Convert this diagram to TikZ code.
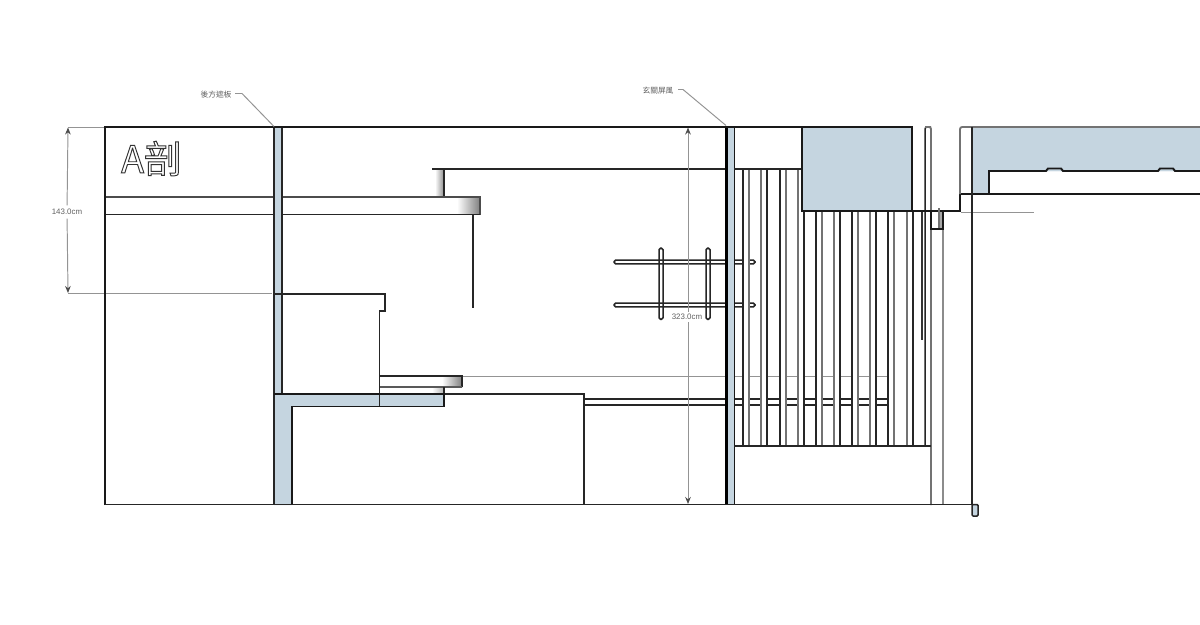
\documentclass[tikz,border=0pt]{standalone}
\usepackage{fontspec}
\setmainfont{Liberation Sans}
\newfontfamily\cjk{Noto Sans CJK TC}
\definecolor{wallblue}{HTML}{C5D5E0}
\usetikzlibrary{arrows.meta}
\tikzset{
  hv/.style={draw=black!85,line width=0.85pt,line join=miter},
  thick wall/.style={draw=black!90,line width=1.1pt},
  mid/.style={draw=black!55,line width=1.05pt},
  pale/.style={draw=black!42,line width=0.55pt},
  dimline/.style={pale,>={Stealth[length=4pt,width=3.2pt,black!70]}},
  lab/.style={font=\fontsize{4.5pt}{5pt}\selectfont,text=black!62,inner sep=0.5pt},
  cjklab/.style={font=\cjk\fontsize{4.4pt}{5pt}\selectfont,text=black!62,inner sep=0.5pt},
  cut/.style={fill=wallblue,draw=none},
}
\begin{document}
\begin{tikzpicture}[x=0.02cm,y=-0.02cm]
\useasboundingbox (0,0) rectangle (1200,625);
\fill[white] (0,0) rectangle (1200,625);

% gradient ends of the shelves
\shade[left color=white,right color=black!50] (457,197) rectangle (480,214);
\shade[left color=white,right color=black!45] (435,170) rectangle (444,197);
\shade[left color=white,right color=black!50] (442,376) rectangle (462,387);
\shade[left color=white,right color=black!30] (432,387) rectangle (444,394);

% pale lines
\draw[pale] (462,376) -- (890,376);
\draw[pale] (961,212) -- (1034,212);
\draw[pale] (68,293) -- (272,293);
\draw[pale] (68,127) -- (105,127);

% rails behind the slats
\draw[hv] (584,399) -- (890,399);
\draw[hv] (584,405) -- (890,405);
\foreach \ry in {262,305}{
  \draw[hv,rounded corners=0.9pt] (726,\ry-1.8) -- (614,\ry-1.8) -- (614,\ry+1.8) -- (726,\ry+1.8);
  \draw[hv,rounded corners=0.9pt] (735,\ry-1.8) -- (755,\ry-1.8) -- (755,\ry+1.8) -- (735,\ry+1.8);
}
\foreach \sx in {659,706}{
  \draw[hv,rounded corners=1pt] (\sx,248) rectangle (\sx+4,319.5);
}

% slats (opaque)
\fill[white] (743,169) rectangle (749,446);
\fill[white] (761,169) rectangle (767,446);
\fill[white] (780,169) rectangle (786,446);
\fill[white] (798,169) rectangle (804,446);
\foreach \sx in {816,834,852,870,888,907}{
  \fill[white] (\sx,211) rectangle (\sx+6,446);
}
\foreach \sx in {743,780}{
  \draw[hv] (\sx,169) -- (\sx,446);
  \draw[mid] (\sx+6,169) -- (\sx+6,446);
}
\draw[mid] (761,169) -- (761,446);
\draw[hv] (767,169) -- (767,446);
\draw[mid] (798,169) -- (798,446);
\draw[hv] (804,211) -- (804,446);
\foreach \sx in {816,852,888}{
  \draw[hv] (\sx,211) -- (\sx,446);
  \draw[mid] (\sx+6,211) -- (\sx+6,446);
}
\foreach \sx in {834,870,907}{
  \draw[mid] (\sx,211) -- (\sx,446);
  \draw[hv] (\sx+6,211) -- (\sx+6,446);
}
\draw[hv,rounded corners=1.2pt] (925,446) -- (925,127) -- (931,127);
\draw[mid,rounded corners=1.2pt] (925,127) -- (931,127) -- (931,505);
\draw[mid,draw=black!45] (943,211) -- (943,505);
\draw[black!80,line width=1.2pt] (921.7,211) -- (921.7,340);

% top fittings
\draw[hv] (432,169) -- (726,169);
\draw[hv] (444,169) -- (444,197);
\draw[hv] (473,214) -- (473,308);

% upper shelf
\draw[hv,draw=black!70,line width=1pt] (105,197) -- (480,197) -- (480,214.5);
\draw[hv] (480,214.5) -- (105,214.5);

% wall fills
\fill[cut] (274,127) rectangle (282,394);
\fill[cut] (274,394) -- (444,394) -- (444,406) -- (292,406) -- (292,505) -- (274,505) -- cycle;
\fill[cut] (727,127) rectangle (734,505);
\fill[cut] (802,127) rectangle (912,211);
\fill[cut] (972,127) -- (1200,127) -- (1200,171) -- (989,171) -- (989,194) -- (972,194) -- cycle;
\fill[cut] (1046,171) -- (1048,168.5) -- (1061,168.5) -- (1063,171) -- cycle;
\fill[cut] (1158,171) -- (1160,168.5) -- (1173,168.5) -- (1175,171) -- cycle;

% counter
\draw[hv] (274,294) -- (385,294) -- (385,311) -- (379.5,311) -- (379.5,406);
\draw[hv] (380,376) -- (462,376) -- (462,387);
\draw[hv,draw=black!65] (462,387) -- (380,387);
\draw[hv] (444,387) -- (444,394);
\draw[hv] (444,394) -- (584,394) -- (584,505);

% back panel and L-section
\draw[hv] (274,127) -- (274,505);
\draw[hv] (282,127) -- (282,394);
\draw[thick wall] (274,394) -- (444,394) -- (444,406.5) -- (292,406.5) -- (292,505);

% entry screen
\draw[black,line width=1.5pt] (726.5,127) -- (726.5,505);
\draw[thick wall] (734.5,127) -- (734.5,505);
\draw[hv] (734,169) -- (802,169);
\draw[hv] (734,446) -- (931,446);

% outer frame
\draw[thick wall] (105,505) -- (105,127) -- (912,127) -- (912,211);
\draw[thick wall] (802,127) -- (802,211) -- (960,211) -- (960,194) -- (1200,194);
\draw[hv] (105,504.5) -- (972,504.5);

% right part
\draw[mid,rounded corners=1.2pt] (960,194) -- (960,127) -- (1200,127);
\draw[hv] (972,127) -- (972,505);
\draw[thick wall] (989,194) -- (989,171) -- (1046,171) -- (1048,168.5) -- (1061,168.5) -- (1063,171) -- (1158,171) -- (1160,168.5) -- (1173,168.5) -- (1175,171) -- (1200,171);

% small box under the soffit
\fill[black!35] (939,212) rectangle (943,229);
\draw[mid] (939,208) -- (939,229);
\draw[thick wall] (931,211) -- (931,229) -- (943,229) -- (943,211);

% foot
\draw[hv,fill=wallblue,rounded corners=0.6pt] (972,504.5) -- (978,504.5) -- (978,516) -- (972,516) -- cycle;

% title
\node[inner sep=0pt,text=white,anchor=center] (title) at (151.5,158.5) {\cjk\fontsize{21.5pt}{22pt}\selectfont\special{pdf:code 1 Tr 0.55 w 0.2 G}A剖\special{pdf:code 0 Tr}};

% dimensions
\node[lab,fill=white,inner ysep=2pt] (dimA) at (67,212) {143.0cm};
\coordinate (dimAtop) at (68,127.5);
\coordinate (dimAbot) at (68,293);
\draw[dimline,<-] (dimAtop) -- (dimA);
\draw[dimline,<-] (dimAbot) -- (dimA);
\coordinate (dimBtop) at (688,127.5);
\coordinate (dimBbot) at (688,504);
\draw[dimline,<->] (dimBtop) -- (dimBbot);
\node[lab,fill=white,inner ysep=1pt] (dimB) at (687,317) {323.0cm};

% callouts
\node[cjklab] (noteA) at (216,94.5) {後方遮板};
\coordinate (noteAbend) at (242,93.5);
\coordinate (noteAend) at (274,126.5);
\draw[pale] (235,93.5) -- (noteAbend) -- (noteAend);
\node[cjklab] (noteB) at (658,91) {玄關屏風};
\coordinate (noteBbend) at (683,89.5);
\coordinate (noteBend) at (726,125.5);
\draw[pale] (678,89.5) -- (noteBbend) -- (noteBend);
\end{tikzpicture}
\end{document}
